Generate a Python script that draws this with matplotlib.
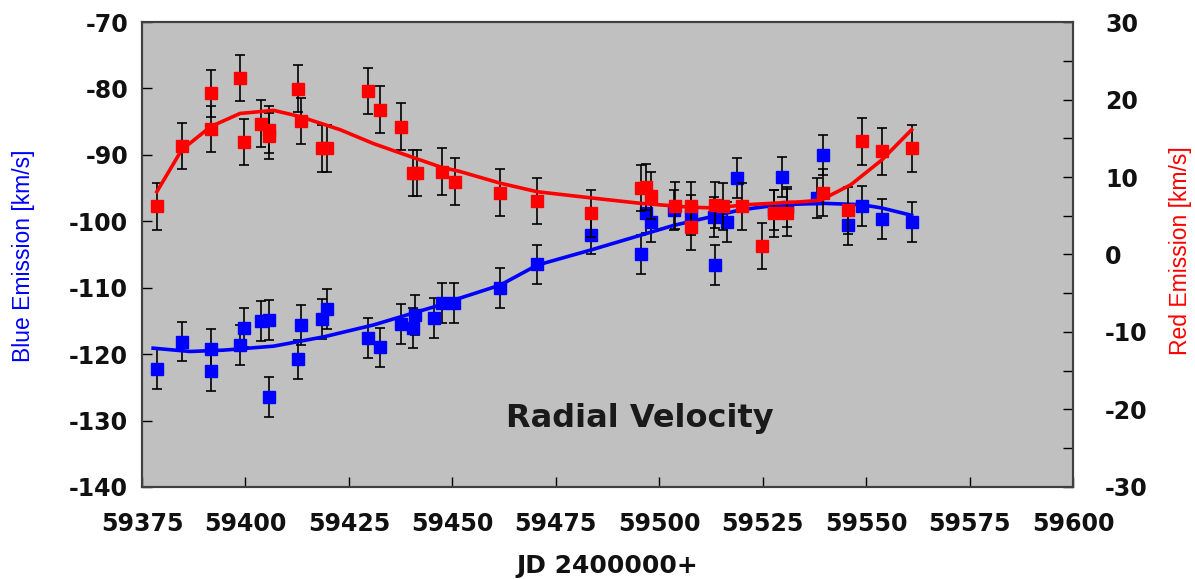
import matplotlib
matplotlib.use("Agg")
import matplotlib.pyplot as plt
from matplotlib.ticker import MultipleLocator

plt.rcParams["axes.unicode_minus"] = False

# Blue emission (left axis), km/s
blue_days = [59378.6, 59384.6, 59391.6, 59391.6, 59398.7, 59399.7, 59403.7, 59405.6,
             59405.6, 59412.7, 59413.5, 59418.5, 59419.7, 59429.6, 59432.6, 59437.7,
             59440.6, 59441.1, 59445.5, 59447.5, 59450.3, 59461.6, 59470.5, 59483.6,
             59495.7, 59496.7, 59497.9, 59503.6, 59507.6, 59513.2, 59513.6, 59516.5,
             59518.7, 59527.7, 59529.6, 59531.0, 59538.2, 59539.7, 59545.7, 59548.9,
             59553.8, 59561.0]
blue_vel = [-122.3, -118.1, -119.2, -122.5, -118.6, -116.0, -115.0, -114.9,
            -126.4, -120.8, -115.6, -114.7, -113.2, -117.6, -119.0, -115.5,
            -116.1, -114.1, -114.5, -112.3, -112.3, -110.1, -106.5, -102.0,
            -105.0, -98.8, -100.1, -98.3, -99.1, -99.3, -106.6, -100.1,
            -93.5, -98.3, -93.3, -97.8, -96.5, -90.0, -100.6, -97.7,
            -99.7, -100.1]

# Red emission (right axis), km/s
red_days = [59378.6, 59384.6, 59391.6, 59391.6, 59398.7, 59399.7, 59403.7, 59405.6,
            59405.8, 59412.7, 59413.5, 59418.5, 59419.7, 59429.6, 59432.6, 59437.7,
            59440.6, 59441.5, 59447.5, 59450.7, 59461.6, 59470.5, 59483.6, 59495.5,
            59496.9, 59497.9, 59503.8, 59507.6, 59507.6, 59513.6, 59515.3, 59520.1,
            59524.9, 59527.7, 59531.0, 59539.7, 59545.7, 59548.9, 59553.8, 59561.0]
red_vel = [6.2, 14.0, 20.8, 16.2, 22.8, 14.5, 16.9, 16.1,
           15.3, 21.4, 17.2, 13.7, 13.7, 21.1, 18.7, 16.5,
           10.5, 10.5, 10.7, 9.4, 8.0, 6.9, 5.3, 8.6,
           8.7, 7.6, 6.3, 6.3, 3.6, 6.4, 6.2, 6.2,
           1.1, 5.3, 5.4, 8.0, 5.7, 14.6, 13.3, 13.7]

err = 3.0

# trend curves
blue_fit_days = [59377.7, 59386.6, 59394.7, 59406.8, 59418.9, 59431.0, 59439.0, 59447.1,
                 59450.7, 59461.6, 59470.5, 59483.6, 59495.5, 59503.6, 59514.1, 59519.5,
                 59529.2, 59539.7, 59548.9, 59553.8, 59561.0]
blue_fit = [-119.1, -119.6, -119.4, -118.8, -117.4, -115.6, -114.1, -112.6,
            -111.8, -109.6, -106.6, -104.3, -102.1, -100.6, -99.1, -98.3,
            -97.5, -97.3, -97.5, -98.0, -99.1]
red_fit_days = [59378.6, 59384.6, 59391.6, 59398.7, 59406.8, 59413.2, 59422.9, 59431.0,
                59439.0, 59447.1, 59451.9, 59461.6, 59470.5, 59483.6, 59495.5, 59507.6,
                59514.1, 59520.1, 59534.2, 59539.0, 59546.3, 59553.8, 59561.0]
red_fit = [8.1, 13.5, 16.5, 18.2, 18.6, 17.8, 16.1, 14.3,
           12.8, 11.3, 10.7, 9.2, 8.1, 7.3, 6.6, 6.1,
           6.0, 6.4, 6.8, 7.0, 9.0, 12.2, 16.1]

fig = plt.figure(figsize=(11.95, 5.79), dpi=100)
ax = fig.add_axes([0.1188, 0.1589, 0.7791, 0.8031])
ax.set_facecolor("#c0c0c0")
ax2 = ax.twinx()

ax.errorbar(blue_days, blue_vel, yerr=err, fmt="s", color="#0000ff", ms=8,
            ecolor="black", elinewidth=1.2, capsize=3.4, capthick=1.2, zorder=3)
ax.plot(blue_fit_days, blue_fit, color="#0000ff", lw=2.6, zorder=4)

ax2.errorbar(red_days, red_vel, yerr=err, fmt="s", color="#ff0000", ms=8,
             ecolor="black", elinewidth=1.2, capsize=3.4, capthick=1.2, zorder=3)
ax2.plot(red_fit_days, red_fit, color="#ff0000", lw=2.6, zorder=4)

ax.set_xlim(59375, 59600)
ax.set_xticks(range(59375, 59601, 25))
ax.set_ylim(-140, -70)
ax.set_yticks(range(-140, -69, 10))
ax2.set_ylim(-30, 30)
ax2.set_yticks(range(-30, 31, 10))
ax2.yaxis.set_minor_locator(MultipleLocator(5))

ax.tick_params(axis="x", direction="in", length=7, width=1, pad=18, top=False)
ax.tick_params(axis="y", direction="in", length=7, width=1, pad=10)
ax2.tick_params(axis="y", which="both", direction="in", length=7, width=1, pad=23)

for lbl in ax.get_xticklabels() + ax.get_yticklabels() + ax2.get_yticklabels():
    lbl.set_fontfamily("DejaVu Sans")
    lbl.set_fontweight("bold")
    lbl.set_fontsize(17)
    lbl.set_color("#111111")

for a in (ax, ax2):
    for s in a.spines.values():
        s.set_color("#404040")
        s.set_linewidth(1.5)

ax.set_xlabel("JD 2400000+", fontfamily="DejaVu Sans", fontweight="bold",
              fontsize=18, color="#111111", labelpad=13)
fig.text(24 / 1195, 1 - 256 / 579, "Blue Emission [km/s]", rotation=90,
         ha="center", va="center", color="#0000ff", fontsize=16.5,
         fontfamily="Liberation Sans")
fig.text(1181 / 1195, 1 - 251 / 579, "Red Emission [km/s]", rotation=90,
         ha="center", va="center", color="#ff0000", fontsize=16.5,
         fontfamily="Liberation Sans")

ax.text(0.535, 0.148, "Radial Velocity", transform=ax.transAxes, ha="center",
        va="center", fontfamily="DejaVu Sans", fontweight="bold", fontsize=23,
        color="#1a1a1a")

fig.savefig("out.png", dpi=100)
